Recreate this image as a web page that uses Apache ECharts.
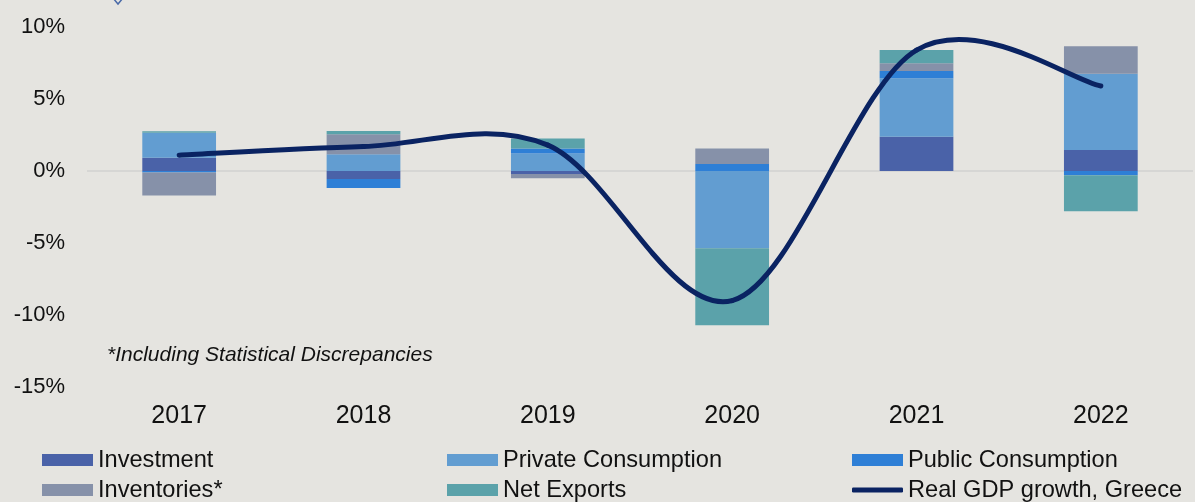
<!DOCTYPE html>
<html>
<head>
<meta charset="utf-8">
<script src="https://cdn.jsdelivr.net/npm/echarts@6/dist/echarts.min.js"></script>
<style>
html,body{margin:0;padding:0;background:#e5e4e0;}
#chart{width:1195px;height:502px;}
</style>
</head>
<body>
<div id="chart"></div>
<script>
const years = ['2017','2018','2019','2020','2021','2022'];
const investment = [0.92, -0.55, -0.2, 0, 2.38, 1.46];
const privateConsumption = [1.74, 1.16, 1.22, -5.37, 4.06, 5.3];
const publicConsumption = [-0.1, -0.63, 0.35, 0.49, 0.51, -0.3];
const inventories = [-1.6, 1.39, -0.3, 1.08, 0.53, 1.9];
const netExports = [0.1, 0.23, 0.69, -5.35, 0.92, -2.5];
const gdpGrowth = [1.1, 1.7, 1.8, -9.0, 8.4, 5.9];
const yTicks = [-15, -10, -5, 0, 5, 10];

const colors = {
  inv: '#4a62a8', priv: '#629dd1', pub: '#2e7fd6', invt: '#8691a9', nx: '#5ba2aa', gdp: '#0a2362'
};

const chart = echarts.init(document.getElementById('chart'));
const font = 'Liberation Sans, Arial, sans-serif';

function barSeries(name, data, color) {
  return {
    name: name, type: 'bar', stack: 'total', data: data, barWidth: '40%',
    itemStyle: { color: color }, emphasis: { disabled: true }
  };
}

function legendItem(name, left, top, isLine) {
  return {
    data: [name], left: left, top: top, padding: 0,
    itemWidth: 51, itemHeight: isLine ? 5 : 12,
    icon: isLine ? 'roundRect' : 'rect',
    textStyle: { fontFamily: font, fontSize: 23.6, color: '#111' },
    selectedMode: false
  };
}

// Smooth (cardinal spline) GDP line, drawn segment by segment through the axis scales
function renderGdp(params, api) {
  const i = params.dataIndex;
  const n = gdpGrowth.length;
  if (i >= n - 1) return null;
  const p = k => {
    const kk = Math.max(0, Math.min(n - 1, k));
    return api.coord([kk, gdpGrowth[kk]]);
  };
  const p0 = p(i - 1), p1 = p(i), p2 = p(i + 1), p3 = p(i + 2);
  const c1 = [p1[0] + (p2[0] - p0[0]) / 6, p1[1] + (p2[1] - p0[1]) / 6];
  const c2 = [p2[0] - (p3[0] - p1[0]) / 6, p2[1] - (p3[1] - p1[1]) / 6];
  return {
    type: 'bezierCurve',
    shape: { x1: p1[0], y1: p1[1], x2: p2[0], y2: p2[1], cpx1: c1[0], cpy1: c1[1], cpx2: c2[0], cpy2: c2[1] },
    style: { stroke: colors.gdp, lineWidth: 5, fill: null, lineCap: 'round' }
  };
}

chart.setOption({
  backgroundColor: '#e5e4e0',
  animation: false,
  grid: { left: 87, right: 2, top: 27, bottom: 115 },
  xAxis: {
    type: 'category', data: years,
    axisLine: { show: false, onZero: false },
    axisTick: { show: false },
    axisLabel: { fontFamily: font, fontSize: 25, color: '#111', margin: 17 }
  },
  yAxis: {
    type: 'value', min: yTicks[0], max: yTicks[yTicks.length - 1], interval: 5,
    axisLine: { show: false }, axisTick: { show: false },
    axisLabel: { formatter: '{value}%', fontFamily: font, fontSize: 22, color: '#111', margin: 22 },
    splitLine: { show: true, lineStyle: { width: 2, color: yTicks.map(t => t === 0 ? '#d6d6d4' : 'rgba(0,0,0,0)') } }
  },
  legend: [
    legendItem('Investment', 42, 448, false),
    legendItem('Private Consumption', 447, 448, false),
    legendItem('Public Consumption', 852, 448, false),
    legendItem('Inventories*', 42, 478, false),
    legendItem('Net Exports', 447, 478, false),
    legendItem('Real GDP growth, Greece', 852, 478, true)
  ],
  graphic: [
    { type: 'text', left: 107, top: 345, style: { text: '*Including Statistical Discrepancies', font: 'italic 21px Liberation Sans, Arial, sans-serif', fill: '#111' } },
    { type: 'polyline', shape: { points: [[113, -2], [118, 4], [123, -2]] }, style: { stroke: '#4a6aa8', lineWidth: 1.5, fill: 'none' } }
  ],
  series: [
    barSeries('Investment', investment, colors.inv),
    barSeries('Private Consumption', privateConsumption, colors.priv),
    barSeries('Public Consumption', publicConsumption, colors.pub),
    barSeries('Inventories*', inventories, colors.invt),
    barSeries('Net Exports', netExports, colors.nx),
    {
      name: 'Real GDP growth, Greece', type: 'custom', z: 5,
      data: years.map((y, i) => [i, gdpGrowth[i]]),
      encode: { x: 0, y: 1 },
      renderItem: renderGdp,
      itemStyle: { color: colors.gdp },
      emphasis: { disabled: true },
      clip: false
    }
  ]
});
</script>
</body>
</html>
